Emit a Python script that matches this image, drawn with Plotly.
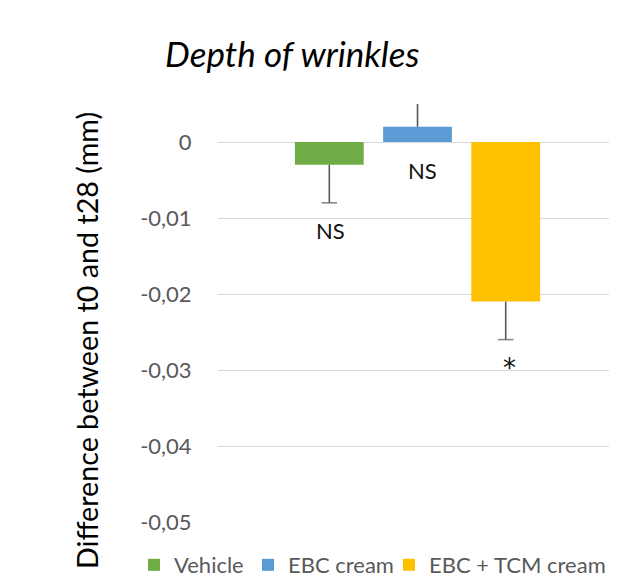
import plotly.graph_objects as go

# ---- data ----
series_names = ["Vehicle", "EBC cream", "EBC + TCM cream"]
series_values = [-0.003, 0.002, -0.021]
err_plus = [0.0, 0.004, 0.0]
err_minus = [0.005, 0.0, 0.005]
sig_labels = ["NS", "NS", "*"]
colors = ["#70AD47", "#5B9BD5", "#FFC000"]
tick_vals = [0, -0.01, -0.02, -0.03, -0.04, -0.05]
tick_text = ["0", "-0,01", "-0,02", "-0,03", "-0,04", "-0,05"]
y_title = "Difference between t0 and t28 (mm)"
chart_title = "Depth of wrinkles"

FONT = "Lato, 'Open Sans', sans-serif"
ERR_COLOR = "#595959"

# layout geometry (figure pixels; page adds an 8px body offset)
L, T, B = 210, 96, 66
PW = 617 - L
PH = 580 - T - B
legend_widths = [69, 96, 175]

fig = go.Figure()
positions = list(range(len(series_names)))
for pos, name, val, col, lw in zip(positions, series_names, series_values, colors,
                                   legend_widths):
    fig.add_trace(go.Bar(
        x=[pos], y=[val], name=name, width=0.78, legendwidth=lw,
        marker=dict(color=col, line=dict(width=0)),
    ))

# one-sided error bars (line from bar end outward, cap only at far end)
for pos, val, ep, em in zip(positions, series_values, err_plus, err_minus):
    end = val + ep if val >= 0 else val - em
    fig.add_trace(go.Scatter(
        x=[pos, pos], y=[val, end], mode="lines+markers", showlegend=False,
        hoverinfo="skip",
        line=dict(color=ERR_COLOR, width=1.6),
        marker=dict(symbol="line-ew-open", size=[0, 11],
                    color=ERR_COLOR, line=dict(color=ERR_COLOR, width=1.6)),
    ))

# significance labels
label_offsets = [(0.01, -0.0037), (0.06, -0.0038), (0.04, -0.0037)]
for pos, lab, val, ep, em, (dx, dy) in zip(positions, sig_labels, series_values,
                                          err_plus, err_minus, label_offsets):
    base = val - em if val < 0 else 0.0
    fig.add_annotation(
        x=pos + dx, y=base + dy, xref="x", yref="y",
        text=lab, showarrow=False, yanchor="middle",
        font=dict(family=FONT if lab != "*" else "DejaVu Sans",
                  size=22 if lab != "*" else 26, color="#111111"),
    )

fig.add_annotation(
    xref="paper", yref="paper",
    x=(284 - L) / PW, y=1 + (T - 45) / PH,
    xanchor="center", yanchor="middle",
    text="<i>" + chart_title + "</i>", showarrow=False,
    font=dict(family=FONT, size=35, color="#000000"),
)

# y-axis title (placed like the original, centred lower than the plot area)
fig.add_annotation(
    xref="paper", yref="paper",
    x=(79 - L) / PW, y=(T + PH - 333) / PH,
    xanchor="center", yanchor="middle", textangle=-90,
    text=y_title, showarrow=False,
    font=dict(family=FONT, size=28.7, color="#000000"),
)

fig.update_layout(
    width=617, height=580,
    margin=dict(l=L, r=0, t=T, b=B, autoexpand=False),
    paper_bgcolor="white", plot_bgcolor="white",
    showlegend=True,
    legend=dict(orientation="h",
                x=(126 - L) / PW, xanchor="left",
                y=-(557 - (T + PH)) / PH, yanchor="middle",
                font=dict(family=FONT, size=22, color="#595959"),
                itemwidth=30, tracegroupgap=0),
    font=dict(family=FONT),
)

fig.update_xaxes(showticklabels=False, showgrid=False, zeroline=False, showline=False,
                 range=[-1.262, -1.262 + PW / 88.2])
fig.update_yaxes(range=[-0.05, 0.005], tickvals=tick_vals, ticktext=tick_text,
                 showgrid=True, gridcolor="#D9D9D9", gridwidth=1.3,
                 zeroline=False, showline=False,
                 ticks="outside", ticklen=21, tickcolor="rgba(0,0,0,0)",
                 tickfont=dict(family=FONT, size=22, color="#595959"))

fig.write_html("out.html")
